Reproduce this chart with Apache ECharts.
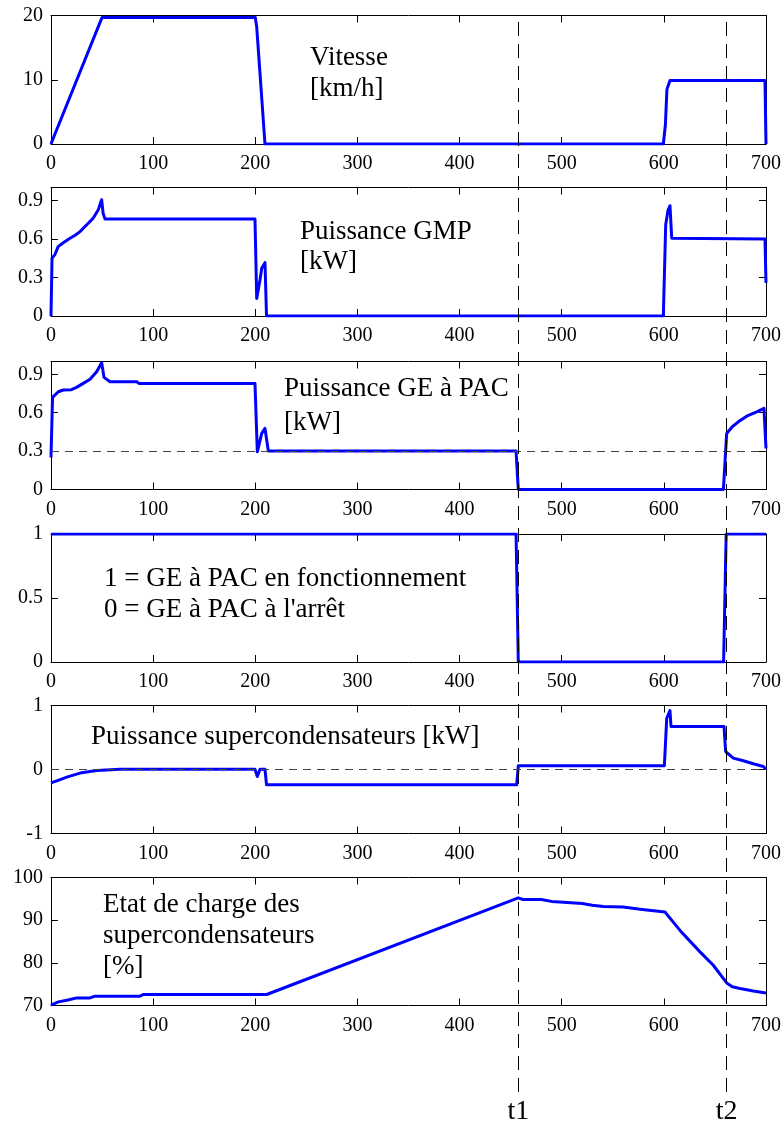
<!DOCTYPE html>
<html><head><meta charset="utf-8">
<script src="https://cdn.jsdelivr.net/npm/echarts@6/dist/echarts.min.js"></script>
<style>html,body{margin:0;padding:0;background:#fff}#c{width:783px;height:1124px}</style>
</head><body><div id="c"></div>
<script>
// ---- data ----
const xTickValues = [0, 100, 200, 300, 400, 500, 600, 700];
const markerTimes = [457.5, 661.5];
const markerNames = ['t1', 't2'];

const vitesseT = [0, 3, 50, 200, 201.4, 209.5, 599.5, 601.5, 603, 606, 699, 700];
const vitesseV = [0, 1.2, 19.7, 19.7, 18.2, 0, 0, 3, 8.5, 9.9, 9.9, 0];

const gmpT = [0, 1, 4, 7, 12, 18.6, 24, 28.4, 35, 41.4, 46.3, 49.6, 51, 52.9, 199.7, 201.4, 204.6, 206.3, 209.5, 211, 599.5, 601.8, 604, 606, 607.7, 699, 700];
const gmpV = [0, 0.45, 0.48, 0.54, 0.57, 0.605, 0.63, 0.657, 0.71, 0.762, 0.827, 0.905, 0.80, 0.754, 0.754, 0.136, 0.28, 0.371, 0.415, 0, 0, 0.71, 0.82, 0.858, 0.605, 0.6, 0.258];

const geT = [0, 1.5, 7.2, 12, 20, 25, 31.6, 38.2, 44.7, 49.6, 51.9, 57.8, 84, 86, 199.7, 202, 206.3, 209.5, 212.8, 455.3, 457.5, 658.3, 661.5, 667, 672.9, 681.1, 690.9, 698, 700];
const geV = [0.25, 0.72, 0.764, 0.777, 0.78, 0.798, 0.829, 0.861, 0.92, 0.99, 0.876, 0.842, 0.842, 0.829, 0.829, 0.294, 0.438, 0.477, 0.3, 0.3, 0, 0, 0.438, 0.49, 0.529, 0.573, 0.607, 0.634, 0.32];

const etatT = [0, 455.3, 457.5, 658.5, 661, 700];
const etatV = [1, 1, 0, 0, 1, 1];

const scT = [0, 7, 15.4, 28.4, 44.7, 67.6, 199.7, 202, 204.6, 209.5, 211, 455.9, 457.5, 600.5, 602.8, 606, 607, 658.9, 660.5, 668, 677.8, 687.6, 697.4, 700];
const scV = [-0.21, -0.17, -0.119, -0.056, -0.016, 0.005, 0.005, -0.109, 0.005, 0.005, -0.239, -0.239, 0.058, 0.058, 0.8, 0.92, 0.672, 0.672, 0.281, 0.178, 0.136, 0.089, 0.047, 0.005];

const socT = [0, 7.2, 15.4, 25.2, 38.2, 43.1, 87.1, 90.4, 211.2, 457.5, 462, 480, 490, 501.6, 520, 530, 540.8, 560, 575, 583.2, 601.1, 615.8, 635.4, 648.4, 661.5, 667, 674.6, 687.6, 700];
const socV = [70.07, 70.85, 71.24, 71.78, 71.78, 72.18, 72.18, 72.58, 72.58, 95.22, 94.85, 94.85, 94.4, 94.2, 93.9, 93.5, 93.2, 93.1, 92.6, 92.4, 91.9, 87.6, 82.57, 79.44, 75.3, 74.4, 74.0, 73.4, 72.95];

const refLines = [null, null, 0.3, null, 0, null];

const texts = [
  ['Vitesse', 310, 66], ['[km/h]', 310, 97],
  ['Puissance GMP', 300, 240], ['[kW]', 300, 270],
  ['Puissance GE à PAC', 284, 397], ['[kW]', 284, 431],
  ['1 = GE à PAC en fonctionnement', 104, 587], ["0 = GE à PAC à l'arrêt", 104, 618],
  ['Puissance supercondensateurs [kW]', 91, 745],
  ['Etat de charge des', 103, 913], ['supercondensateurs', 103, 944], ['[%]', 103, 975]
];

// ---- layout ----
const FONT = '"Liberation Serif","Times New Roman",serif';
const tops = [15.5, 187.5, 361.5, 534, 705.5, 877.5];
const heights = [128.5, 128.5, 128, 128, 128, 128];
const panels = [
  {t: vitesseT, v: vitesseV, min: 0, max: 20, interval: 10},
  {t: gmpT, v: gmpV, min: 0, max: 1, interval: 0.3, hideMax: true},
  {t: geT, v: geV, min: 0, max: 1, interval: 0.3, hideMax: true},
  {t: etatT, v: etatV, min: 0, max: 1, interval: 0.5},
  {t: scT, v: scV, min: -1, max: 1, interval: 1},
  {t: socT, v: socV, min: 70, max: 100, interval: 10}
];

const grid = [], xAxis = [], yAxis = [], series = [];
const lineBlack = {color: '#000', width: 1};
panels.forEach((p, i) => {
  grid.push({left: 51, width: 715, top: tops[i], height: heights[i], containLabel: false, outerBoundsMode: 'none'});
  const xBase = {type: 'value', gridIndex: i, min: xTickValues[0], max: xTickValues[xTickValues.length - 1],
    interval: xTickValues[1] - xTickValues[0], splitLine: {show: false},
    axisLine: {show: true, onZero: false, lineStyle: lineBlack},
    axisTick: {show: true, inside: true, length: 7, lineStyle: lineBlack}};
  xAxis.push(Object.assign({}, xBase, {position: 'bottom',
    axisLabel: {show: true, fontFamily: FONT, fontSize: 20, color: '#000', margin: 10, hideOverlap: false}}));
  xAxis.push(Object.assign({}, xBase, {position: 'top', axisLabel: {show: false}}));
  const yBase = {type: 'value', gridIndex: i, min: p.min, max: p.max, interval: p.interval, splitLine: {show: false},
    axisLine: {show: true, onZero: false, lineStyle: lineBlack},
    axisTick: {show: true, inside: true, length: 7, lineStyle: lineBlack}};
  yAxis.push(Object.assign({}, yBase, {position: 'left',
    axisLabel: {show: true, fontFamily: FONT, fontSize: 20, color: '#000', margin: 8, showMaxLabel: !p.hideMax, hideOverlap: false}}));
  yAxis.push(Object.assign({}, yBase, {position: 'right', axisLabel: {show: false}}));
  const s = {type: 'line', xAxisIndex: 2 * i, yAxisIndex: 2 * i, showSymbol: false, symbol: 'none',
    clip: true, silent: true, z: 3,
    lineStyle: {color: '#0000ff', width: 3, join: 'round'},
    data: p.t.map((t, k) => [t, p.v[k]])};
  if (refLines[i] !== null) {
    s.markLine = {silent: true, symbol: ['none', 'none'], label: {show: false},
      lineStyle: {color: '#444', width: 1, type: [8, 6]},
      data: [{yAxis: refLines[i]}]};
  }
  series.push(s);
});

// overlay grid for the t1 / t2 markers
grid.push({left: 51, width: 715, top: 15, height: 1077, containLabel: false, outerBoundsMode: 'none'});
xAxis.push({type: 'value', gridIndex: 6, min: 0, max: 700, show: false});
yAxis.push({type: 'value', gridIndex: 6, min: 0, max: 1, show: false});
series.push({type: 'line', xAxisIndex: 12, yAxisIndex: 12, data: [], silent: true, z: 5,
  markLine: {silent: true, symbol: ['none', 'none'],
    lineStyle: {color: '#000', width: 1, type: [14, 8]},
    label: {show: true, position: 'start', distance: 6, formatter: '{b}', fontFamily: FONT, fontSize: 28, color: '#000'},
    data: markerTimes.map((t, k) => ({xAxis: t, name: markerNames[k]}))}});

const graphic = texts.map(([txt, x, base]) => ({
  type: 'text', x: x, y: base - 8, silent: true, z: 10,
  style: {text: txt, fill: '#000', font: '27px ' + FONT, textAlign: 'left', textVerticalAlign: 'middle',
    align: 'left', verticalAlign: 'middle'}
}));

const chart = echarts.init(document.getElementById('c'));
chart.setOption({animation: false, backgroundColor: '#fff', grid, xAxis, yAxis, series, graphic});
</script>
</body></html>
